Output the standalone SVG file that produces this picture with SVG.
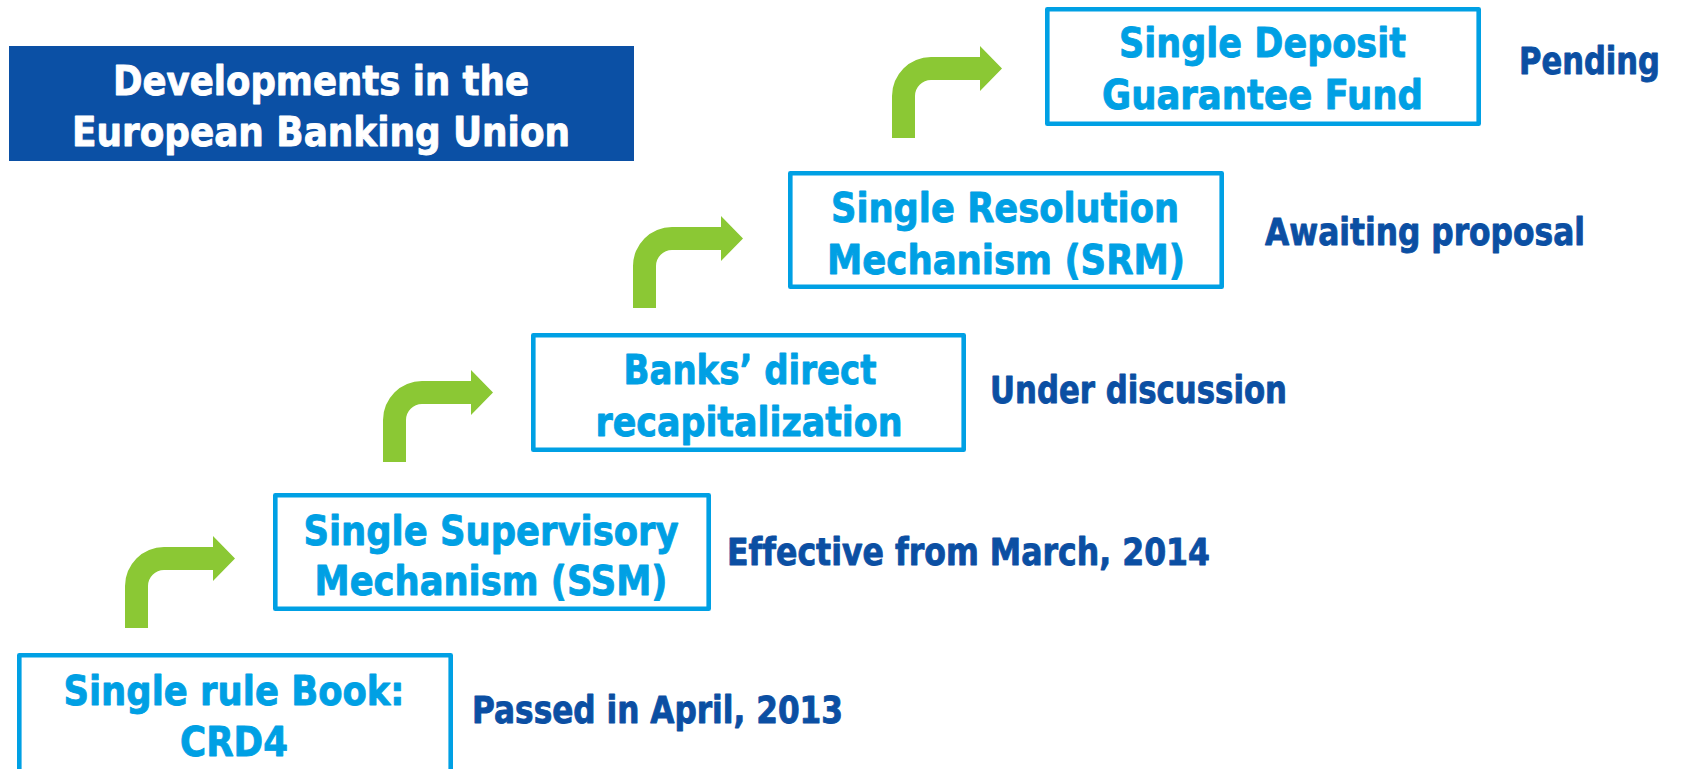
<svg xmlns="http://www.w3.org/2000/svg" width="1689" height="769" viewBox="0 0 1689 769">
  <style>
    .box { fill: #ffffff; stroke: #00a0e4; stroke-width: 4.6; stroke-linejoin: round; }
    text { font-family: "DejaVu Sans", Verdana, sans-serif; font-weight: bold; font-variant-ligatures: none; stroke-width: 0.9; stroke-linejoin: round; }
    .lbl { font-size: 40px; fill: #00a0e4; stroke: #00a0e4; text-anchor: middle; }
    .status { font-size: 37px; fill: #0b4fa3; stroke: #0b4fa3; }
    .title { font-size: 40px; fill: #ffffff; stroke: #ffffff; text-anchor: middle; }
    .step { fill: #8bc834; }
  </style>
  <defs>
    <!-- bent "step up" arrow, origin at stem-left / bar-top corner -->
    <path id="bend-arrow" d="M0,81 L0,39 A39,39 0 0 1 39,0 L88,0 L88,-11 L110,11.5 L88,34 L88,23 L39,23 A16,16 0 0 0 23,39 L23,81 Z"/>
  </defs>

  <rect width="1689" height="769" fill="#ffffff"/>

  <!-- title banner -->
  <g id="title">
    <rect x="9" y="46" width="625" height="115" fill="#0b50a5"/>
    <text class="title" x="321" y="95" textLength="416" lengthAdjust="spacingAndGlyphs">Developments in the</text>
    <text class="title" x="321" y="146" textLength="498" lengthAdjust="spacingAndGlyphs">European Banking Union</text>
  </g>

  <!-- connectors between stages -->
  <g id="connectors">
    <use href="#bend-arrow" class="step" transform="translate(125,547)"/>
    <use href="#bend-arrow" class="step" transform="translate(383,381)"/>
    <use href="#bend-arrow" class="step" transform="translate(633,227)"/>
    <use href="#bend-arrow" class="step" transform="translate(892,57)"/>
  </g>

  <g id="node-rulebook">
    <rect class="box" x="19.3" y="655.3" width="431.4" height="130"/>
    <text class="lbl" x="234" y="705" textLength="341" lengthAdjust="spacingAndGlyphs">Single rule Book:</text>
    <text class="lbl" x="234" y="756" textLength="108" lengthAdjust="spacingAndGlyphs">CRD4</text>
    <text class="status" x="472" y="723" textLength="371" lengthAdjust="spacingAndGlyphs">Passed in April, 2013</text>
  </g>

  <g id="node-ssm">
    <rect class="box" x="275.3" y="495.3" width="433.4" height="113.4"/>
    <text class="lbl" x="491" y="545" textLength="375" lengthAdjust="spacingAndGlyphs">Single Supervisory</text>
    <text class="lbl" x="491" y="595" textLength="353" lengthAdjust="spacingAndGlyphs">Mechanism (SSM)</text>
    <text class="status" x="727" y="565" textLength="483" lengthAdjust="spacingAndGlyphs">Effective from March, 2014</text>
  </g>

  <g id="node-recap">
    <rect class="box" x="533.3" y="335.3" width="430.4" height="114.4"/>
    <text class="lbl" x="750" y="384" textLength="253" lengthAdjust="spacingAndGlyphs">Banks’ direct</text>
    <text class="lbl" x="749" y="436" textLength="307" lengthAdjust="spacingAndGlyphs">recapitalization</text>
    <text class="status" x="990" y="403" textLength="297" lengthAdjust="spacingAndGlyphs">Under discussion</text>
  </g>

  <g id="node-srm">
    <rect class="box" x="790.3" y="173.3" width="431.4" height="113.4"/>
    <text class="lbl" x="1005" y="222" textLength="348" lengthAdjust="spacingAndGlyphs">Single Resolution</text>
    <text class="lbl" x="1006" y="274" textLength="358" lengthAdjust="spacingAndGlyphs">Mechanism (SRM)</text>
    <text class="status" x="1265" y="245" textLength="320" lengthAdjust="spacingAndGlyphs">Awaiting proposal</text>
  </g>

  <g id="node-sdgf">
    <rect class="box" x="1047.3" y="9.3" width="431.4" height="114.4"/>
    <text class="lbl" x="1262.5" y="57" textLength="287" lengthAdjust="spacingAndGlyphs">Single Deposit</text>
    <text class="lbl" x="1262.5" y="109" textLength="321" lengthAdjust="spacingAndGlyphs">Guarantee Fund</text>
    <text class="status" x="1519" y="74" textLength="141" lengthAdjust="spacingAndGlyphs">Pending</text>
  </g>
</svg>
